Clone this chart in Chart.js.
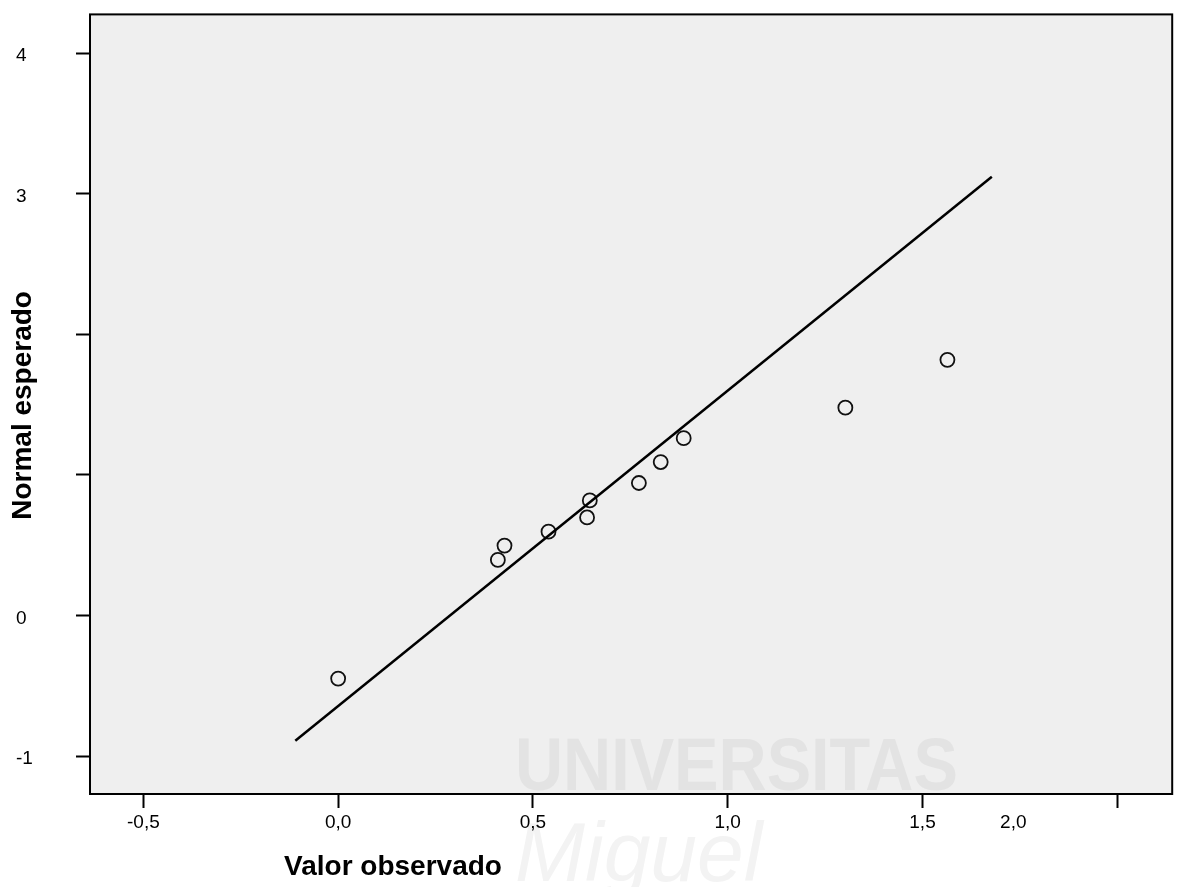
<!DOCTYPE html>
<html>
<head>
<meta charset="utf-8">
<script src="https://cdn.jsdelivr.net/npm/chart.js@4/dist/chart.umd.min.js"></script>
<style>
  html, body { margin: 0; padding: 0; background: #ffffff; }
  #wrap { width: 1181px; height: 887px; position: relative; }
</style>
</head>
<body>
<div id="wrap"><canvas id="qq"></canvas></div>
<script>
// Observed values and their expected normal scores
const observed = [0.000, 0.410, 0.427, 0.540, 0.639, 0.646, 0.772, 0.828, 0.887, 1.302, 1.564];
const expected = [-0.448, 0.396, 0.498, 0.597, 0.698, 0.819, 0.943, 1.092, 1.262, 1.479, 1.819];

// Reference line end points
const refLineX = [-0.110, 1.678];
const refLineY = [-0.890, 3.121];

// Axis ticks
const xTickValues = [-0.5, 0, 0.5, 1, 1.5, 2];
const xTickLabels = ['-0,5', '0,0', '0,5', '1,0', '1,5', '2,0'];
const yTickValues = [-1, 0, 1, 2, 3, 4];
const yTickLabels = ['-1', '0', '', '', '3', '4'];

const xTitle = 'Valor observado';
const yTitle = 'Normal esperado';
const watermarkTop = 'UNIVERSITAS';
const watermarkBottom = 'Miguel';

const FONT = '"Liberation Sans", Arial, Helvetica, sans-serif';
Chart.defaults.font.family = FONT;
Chart.defaults.color = '#000000';

const pointData = observed.map((x, i) => ({ x: x, y: expected[i] }));
const lineData = refLineX.map((x, i) => ({ x: x, y: refLineY[i] }));

// the last x label sits left of its tick mark
const LAST_LABEL_SHIFT = -104;

const framePlugin = {
  id: 'framePlugin',
  beforeDraw(chart) {
    const { ctx, chartArea: a } = chart;
    ctx.save();
    ctx.fillStyle = '#efefef';
    ctx.fillRect(a.left, a.top, a.right - a.left, a.bottom - a.top);

    // faint stamp behind the data
    ctx.fillStyle = '#e3e3e3';
    ctx.font = 'bold 74px ' + FONT;
    ctx.textBaseline = 'alphabetic';
    ctx.textAlign = 'left';
    ctx.translate(515, 790);
    ctx.scale(0.9, 1);
    ctx.fillText(watermarkTop, 0, 0);
    ctx.restore();

    ctx.save();
    ctx.fillStyle = '#f3f3f3';
    ctx.font = 'italic 84px ' + FONT;
    ctx.textBaseline = 'alphabetic';
    ctx.textAlign = 'left';
    ctx.fillText(watermarkBottom, 515, 881);
    ctx.restore();
  },
  afterDatasetsDraw(chart) {
    const { ctx, chartArea: a } = chart;
    ctx.save();
    ctx.strokeStyle = '#000000';
    ctx.lineWidth = 2;
    ctx.strokeRect(a.left, a.top, a.right - a.left, a.bottom - a.top);
    ctx.restore();
  },
  afterDraw(chart) {
    const { ctx, chartArea: a, scales } = chart;
    ctx.save();
    ctx.fillStyle = '#000000';

    // last x tick label
    const lastIdx = xTickValues.length - 1;
    ctx.font = '19px ' + FONT;
    ctx.textAlign = 'center';
    ctx.textBaseline = 'middle';
    ctx.fillText(xTickLabels[lastIdx],
      scales.x.getPixelForValue(xTickValues[lastIdx]) + LAST_LABEL_SHIFT, a.bottom + 29);

    // axis titles
    ctx.font = 'bold 28px ' + FONT;
    ctx.fillText(xTitle, a.left + 303, a.bottom + 73);
    ctx.translate(23, a.top + 391);
    ctx.rotate(-Math.PI / 2);
    ctx.fillText(yTitle, 0, 0);
    ctx.restore();
  }
};

new Chart(document.getElementById('qq'), {
  type: 'scatter',
  data: {
    datasets: [
      {
        label: 'line',
        data: lineData,
        showLine: true,
        borderColor: '#000000',
        borderWidth: 2.5,
        pointRadius: 0,
        fill: false
      },
      {
        label: 'points',
        data: pointData,
        pointStyle: 'circle',
        pointRadius: 7,
        pointBorderWidth: 1.8,
        borderColor: '#111111',
        backgroundColor: 'rgba(0,0,0,0)'
      }
    ]
  },
  plugins: [framePlugin],
  options: {
    responsive: true,
    maintainAspectRatio: false,
    animation: false,
    events: [],
    layout: { padding: { left: 16, top: 11, right: 5, bottom: 0 } },
    plugins: {
      legend: { display: false },
      tooltip: { enabled: false },
      title: { display: false }
    },
    scales: {
      x: {
        type: 'linear',
        min: -0.637,
        max: 2.141,
        afterBuildTicks: (s) => { s.ticks = xTickValues.map(v => ({ value: v })); },
        afterFit: (s) => { s.height = 93; },
        ticks: {
          font: { size: 19 },
          color: '#000000',
          padding: 3,
          maxRotation: 0,
          autoSkip: false,
          callback: (v) => {
            const i = xTickValues.indexOf(v);
            return i === xTickValues.length - 1 ? '' : xTickLabels[i];
          }
        },
        grid: {
          display: true,
          drawOnChartArea: false,
          drawTicks: true,
          tickLength: 14,
          tickWidth: 2,
          tickColor: '#000000'
        },
        border: { display: false }
      },
      y: {
        type: 'linear',
        min: -1.269,
        max: 4.276,
        afterBuildTicks: (s) => { s.ticks = yTickValues.map(v => ({ value: v })); },
        afterFit: (s) => { s.width = 74; },
        ticks: {
          font: { size: 19 },
          color: '#000000',
          crossAlign: 'far',
          labelOffset: 3,
          autoSkip: false,
          callback: (v) => yTickLabels[yTickValues.indexOf(v)]
        },
        grid: {
          display: true,
          drawOnChartArea: false,
          drawTicks: true,
          tickLength: 14,
          tickWidth: 2,
          tickColor: '#000000'
        },
        border: { display: false }
      }
    }
  }
});
</script>
</body>
</html>
